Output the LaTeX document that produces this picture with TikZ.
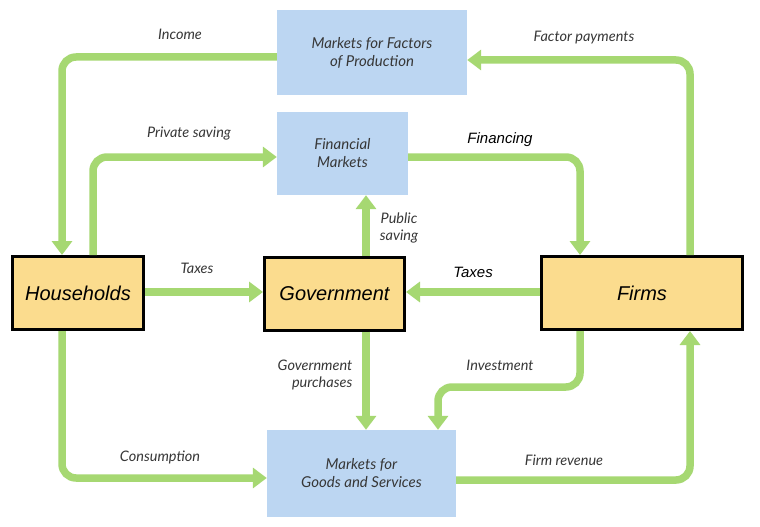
\documentclass[tikz,border=0pt]{standalone}
\usepackage{fontspec}
\setmainfont{Lato}
\newfontfamily\arialf{Liberation Sans}
\usetikzlibrary{arrows.meta,calc}
\definecolor{flowgreen}{RGB}{166,216,114}
\definecolor{boxblue}{RGB}{188,214,242}
\definecolor{boxyellow}{RGB}{251,220,142}
\definecolor{labgray}{RGB}{55,55,55}
\tikzset{
  flow/.style={draw=flowgreen, line width=7.5pt, rounded corners=14pt,
    -{Triangle[width=20pt,length=14pt]}},
  bluebox/.style={fill=boxblue, draw=none, inner sep=0pt, align=center,
    text=labgray, font=\fontsize{15}{18}\selectfont\itshape},
  agent/.style={fill=boxyellow, draw=black, line width=3pt, inner sep=0pt,
    font=\arialf\fontsize{20}{24}\selectfont\itshape},
  lab/.style={text=labgray, font=\fontsize{14.5}{17.5}\selectfont\itshape, inner sep=0pt, align=center},
  alab/.style={text=black, font=\arialf\fontsize{15}{18}\selectfont\itshape, inner sep=0pt}
}
\begin{document}
\begin{tikzpicture}[x=1pt,y=-1pt]
\useasboundingbox[fill=white] (0,0) rectangle (760,527);
% boxes
\node[bluebox, minimum width=190pt, minimum height=85pt] (mf) at (372,52.5) {Markets for Factors\\of Production};
\node[bluebox, minimum width=131pt, minimum height=83pt] (fm) at (342.5,153.5) {Financial\\Markets};
\node[bluebox, minimum width=189pt, minimum height=87pt] (gs) at (361.5,473.5) {Markets for\\Goods and Services};
\node[agent, minimum width=131pt, minimum height=73pt] (hh) at (78,293) {Households};
\node[agent, minimum width=140pt, minimum height=73pt] (gov) at (334.5,293.5) {Government};
\node[agent, minimum width=201pt, minimum height=73pt] (firms) at (642,293) {Firms};
% connectors
\draw[flow] (mf.west |- 0,57) -| (hh.north -| 62,0);
\draw[flow] (hh.north -| 93,0) |- (fm.west |- 0,157);
\draw[flow] (firms.north -| 690,0) |- (mf.east |- 0,60);
\draw[flow] (fm.east |- 0,157) -| (firms.north -| 580,0);
\draw[flow] (gov.north -| 366,0) -- (fm.south -| 366,0);
\draw[flow] (hh.east |- 0,292) -- (gov.west |- 0,292);
\draw[flow] (firms.west |- 0,292) -- (gov.east |- 0,292);
\draw[flow] (gov.south -| 366,0) -- (gs.north -| 366,0);
\draw[flow] (hh.south -| 62,0) |- (gs.west |- 0,478);
\coordinate (invbend) at (438,387);
\draw[flow] (firms.south -| 580,0) |- (invbend) -- (gs.north -| 438,0);
\draw[flow] (gs.east |- 0,480) -| (firms.south -| 690,0);
% labels
\node[lab] (lincome) at (180,34) {Income};
\node[lab] (lpriv) at (189,134) {Private saving};
\node[lab] (lfactor) at (584,38) {Factor payments};
\node[alab] (lfin) at (500,140) {Financing};
\node[lab] (lpub) at (399,228) {Public\\saving};
\node[lab] (ltax1) at (197,268) {Taxes};
\node[alab] (ltax2) at (473,272) {Taxes};
\node[lab, align=right] (lgov) at (315,375) {Government\\purchases};
\node[lab] (linv) at (500,365) {Investment};
\node[lab] (lcons) at (160,457) {Consumption};
\node[lab] (lrev) at (564,460) {Firm revenue};
\end{tikzpicture}
\end{document}
